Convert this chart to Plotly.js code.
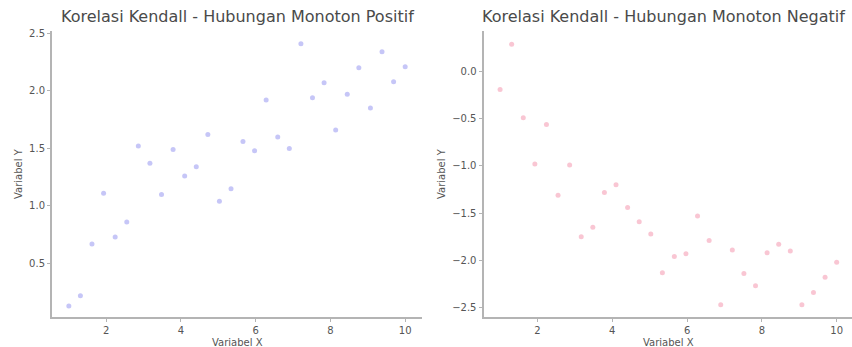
<!DOCTYPE html>
<html>
<head>
<meta charset="utf-8">
<script src="https://cdn.plot.ly/plotly-3.0.1.min.js"></script>
<style>
  html, body { margin: 0; padding: 0; background: #fff; }
  #chart { width: 852px; height: 347px; }
</style>
</head>
<body>
<div id="chart"></div>
<script>
// Variabel X: 30 evenly spaced samples from 1 to 10
const xValues = [1.00, 1.31, 1.62, 1.93, 2.24, 2.55, 2.86, 3.17, 3.48, 3.79,
                 4.10, 4.41, 4.72, 5.03, 5.34, 5.66, 5.97, 6.28, 6.59, 6.90,
                 7.21, 7.52, 7.83, 8.14, 8.45, 8.76, 9.07, 9.38, 9.69, 10.00];

// Positive monotonic relationship
const yPositive = [0.13, 0.22, 0.67, 1.11, 0.73, 0.86, 1.52, 1.37, 1.10, 1.49,
                   1.26, 1.34, 1.62, 1.04, 1.15, 1.56, 1.48, 1.92, 1.60, 1.50,
                   2.41, 1.94, 2.07, 1.66, 1.97, 2.20, 1.85, 2.34, 2.08, 2.21];

// Negative monotonic relationship
const yNegative = [-0.19, 0.29, -0.49, -0.98, -0.56, -1.31, -0.99, -1.75, -1.65, -1.28,
                   -1.20, -1.44, -1.59, -1.72, -2.13, -1.96, -1.93, -1.53, -1.79, -2.47,
                   -1.89, -2.14, -2.27, -1.92, -1.83, -1.90, -2.47, -2.34, -2.18, -2.02];

const xTicks = [2, 4, 6, 8, 10];
const yTicksPositive = [0.5, 1.0, 1.5, 2.0, 2.5];
const yTicksNegative = [0.0, -0.5, -1.0, -1.5, -2.0, -2.5];

const titles = ['Korelasi Kendall - Hubungan Monoton Positif',
                'Korelasi Kendall - Hubungan Monoton Negatif'];
const xLabel = 'Variabel X';
const yLabel = 'Variabel Y';

const W = 852, H = 347;
const px = v => v / W;
const py = v => 1 - v / H;

const axisCommon = {
  showgrid: false,
  zeroline: false,
  showline: true,
  linecolor: '#b4b4b4',
  linewidth: 2,
  ticks: 'outside',
  ticklen: 3,
  tickwidth: 1,
  tickcolor: '#b4b4b4',
  tickfont: { family: 'DejaVu Sans', size: 10, color: '#555' },
  fixedrange: true
};

const traces = [
  {
    x: xValues, y: yPositive, type: 'scatter', mode: 'markers',
    xaxis: 'x', yaxis: 'y',
    marker: { size: 5, color: 'rgba(120,120,235,0.42)' },
    hoverinfo: 'none'
  },
  {
    x: xValues, y: yNegative, type: 'scatter', mode: 'markers',
    xaxis: 'x2', yaxis: 'y2',
    marker: { size: 5, color: 'rgba(240,120,150,0.42)' },
    hoverinfo: 'none'
  }
];

const yDomain = [py(317), py(31)];

const layout = {
  width: W, height: H,
  margin: { l: 0, r: 0, t: 0, b: 0 },
  paper_bgcolor: '#fff',
  plot_bgcolor: '#fff',
  showlegend: false,
  font: { family: 'DejaVu Sans', color: '#555' },
  xaxis: Object.assign({}, axisCommon, {
    domain: [px(52), px(422)], range: [0.55, 10.45],
    tickvals: xTicks, anchor: 'y'
  }),
  yaxis: Object.assign({}, axisCommon, {
    domain: yDomain, range: [0.035, 2.52],
    tickvals: yTicksPositive, tickformat: '.1f', anchor: 'x'
  }),
  xaxis2: Object.assign({}, axisCommon, {
    domain: [px(483.5), 1], range: [0.557, 10.41],
    tickvals: xTicks, anchor: 'y2'
  }),
  yaxis2: Object.assign({}, axisCommon, {
    domain: yDomain, range: [-2.60, 0.43],
    tickvals: yTicksNegative, tickformat: '.1f', anchor: 'x2'
  }),
  annotations: [
    { text: titles[0], x: px(237), y: py(17), xref: 'paper', yref: 'paper',
      xanchor: 'center', yanchor: 'middle', showarrow: false,
      font: { family: 'DejaVu Sans', size: 16, color: '#4a4a4a' } },
    { text: titles[1], x: px(663), y: py(17), xref: 'paper', yref: 'paper',
      xanchor: 'center', yanchor: 'middle', showarrow: false,
      font: { family: 'DejaVu Sans', size: 16, color: '#4a4a4a' } },
    { text: xLabel, x: px(237), y: py(342), xref: 'paper', yref: 'paper',
      xanchor: 'center', yanchor: 'middle', showarrow: false,
      font: { family: 'DejaVu Sans', size: 10, color: '#555' } },
    { text: xLabel, x: px(668), y: py(342), xref: 'paper', yref: 'paper',
      xanchor: 'center', yanchor: 'middle', showarrow: false,
      font: { family: 'DejaVu Sans', size: 10, color: '#555' } },
    { text: yLabel, x: px(18), y: py(174), xref: 'paper', yref: 'paper',
      xanchor: 'center', yanchor: 'middle', showarrow: false, textangle: -90,
      font: { family: 'DejaVu Sans', size: 10, color: '#555' } },
    { text: yLabel, x: px(441), y: py(174), xref: 'paper', yref: 'paper',
      xanchor: 'center', yanchor: 'middle', showarrow: false, textangle: -90,
      font: { family: 'DejaVu Sans', size: 10, color: '#555' } }
  ]
};

Plotly.newPlot('chart', traces, layout, { displayModeBar: false, staticPlot: true });
</script>
</body>
</html>
